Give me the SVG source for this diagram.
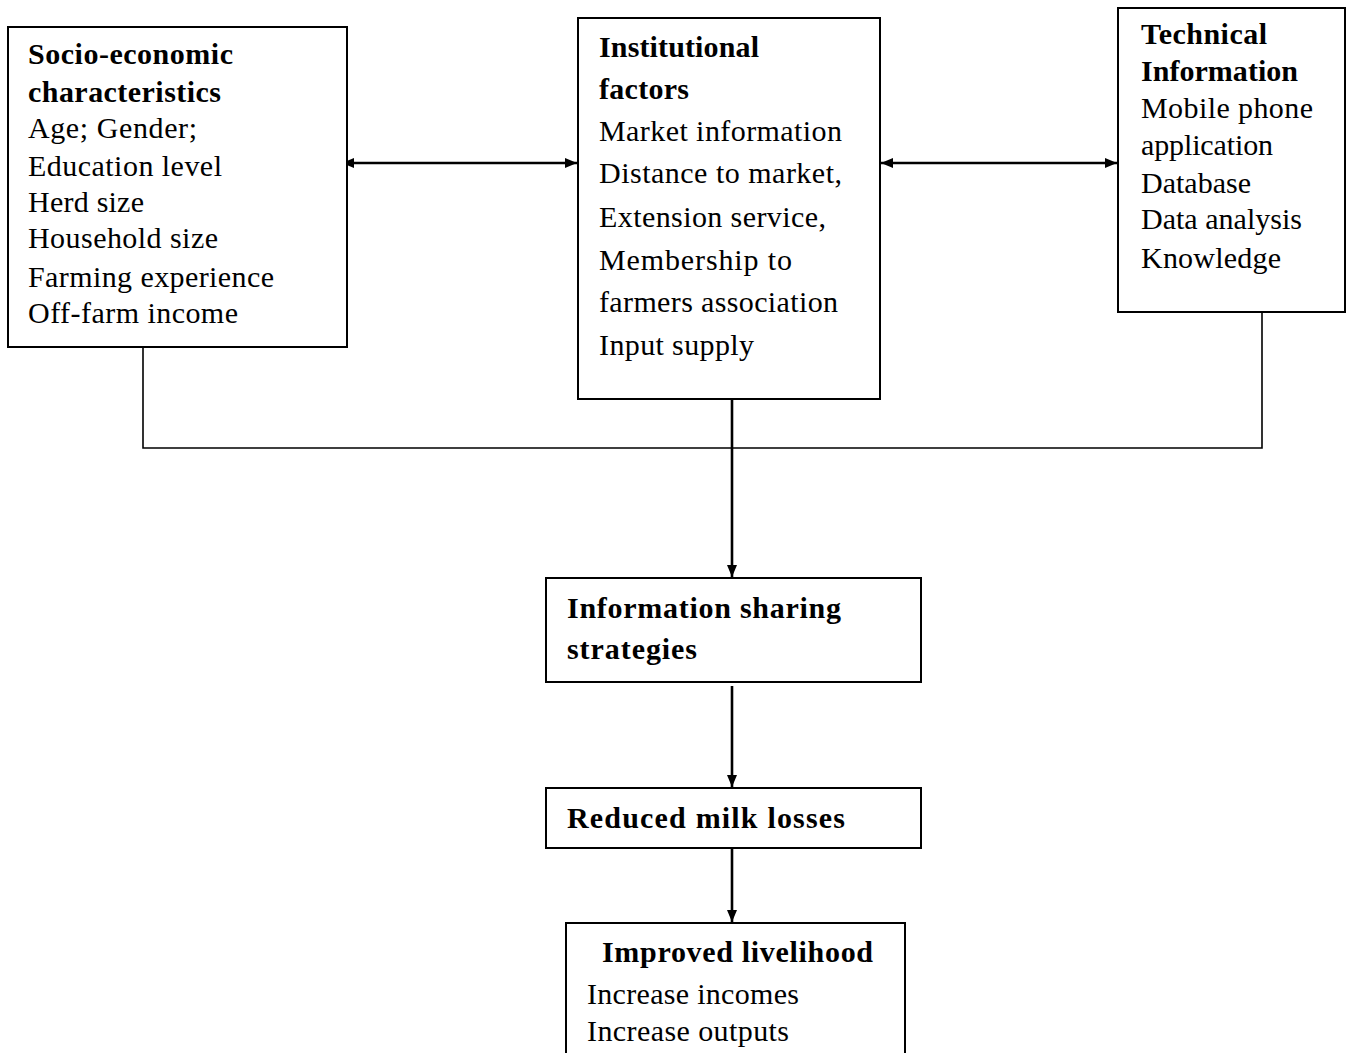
<svg xmlns="http://www.w3.org/2000/svg" width="1349" height="1053" viewBox="0 0 1349 1053">
<style>
.box{fill:#fff;stroke:#000;stroke-width:2}
text{font-family:"Liberation Serif","Times New Roman",serif;font-size:30px;fill:#000}
.b{font-weight:bold}
.c{fill:none;stroke:#000;stroke-width:2.6}
.bus{fill:none;stroke:#000;stroke-width:1.6}
</style>
<defs>
<marker id="ah" viewBox="0 0 12 10" refX="12" refY="5" markerWidth="12" markerHeight="10" markerUnits="userSpaceOnUse" orient="auto-start-reverse">
<path d="M0,0 L12,5 L0,10 z" fill="#000"/>
</marker>
</defs>
<rect width="1349" height="1053" fill="#fff"/>
<g id="connectors">
<path class="bus" d="M143,347 V448 H1262 V312"/>
<line class="c" x1="342" y1="163" x2="577" y2="163" marker-start="url(#ah)" marker-end="url(#ah)"/>
<line class="c" x1="881" y1="163" x2="1117" y2="163" marker-start="url(#ah)" marker-end="url(#ah)"/>
<line class="c" x1="732" y1="399" x2="732" y2="577" marker-end="url(#ah)"/>
<line class="c" x1="732" y1="686" x2="732" y2="787" marker-end="url(#ah)"/>
<line class="c" x1="732" y1="848" x2="732" y2="922" marker-end="url(#ah)"/>
</g>
<g id="socio">
<rect class="box" x="8" y="27" width="339" height="320"/>
<text x="28" y="64" class="b" textLength="205">Socio-economic</text>
<text x="28" y="102" class="b" textLength="193">characteristics</text>
<text x="28" y="138" textLength="169">Age; Gender;</text>
<text x="28" y="176" textLength="194">Education level</text>
<text x="28" y="212" textLength="116">Herd size</text>
<text x="28" y="248" textLength="190">Household size</text>
<text x="28" y="287" textLength="246">Farming experience</text>
<text x="28" y="323" textLength="210">Off-farm income</text>
</g>
<g id="institutional">
<rect class="box" x="578" y="18" width="302" height="381"/>
<text x="599" y="57" class="b" textLength="160">Institutional</text>
<text x="599" y="99" class="b" textLength="90">factors</text>
<text x="599" y="141" textLength="243">Market information</text>
<text x="599" y="183" textLength="243">Distance to market,</text>
<text x="599" y="227" textLength="227">Extension service,</text>
<text x="599" y="270" textLength="193">Membership to</text>
<text x="599" y="312" textLength="239">farmers association</text>
<text x="599" y="355" textLength="155">Input supply</text>
</g>
<g id="technical">
<rect class="box" x="1118" y="8" width="227" height="304"/>
<text x="1141" y="44" class="b" textLength="126">Technical</text>
<text x="1141" y="81" class="b" textLength="157">Information</text>
<text x="1141" y="118" textLength="172">Mobile phone</text>
<text x="1141" y="155" textLength="132">application</text>
<text x="1141" y="193" textLength="110">Database</text>
<text x="1141" y="229" textLength="161">Data analysis</text>
<text x="1141" y="268" textLength="140">Knowledge</text>
</g>
<g id="sharing">
<rect class="box" x="546" y="578" width="375" height="104"/>
<text x="567" y="618" class="b" textLength="274">Information sharing</text>
<text x="567" y="659" class="b" textLength="130">strategies</text>
</g>
<g id="losses">
<rect class="box" x="546" y="788" width="375" height="60"/>
<text x="567" y="828" class="b" textLength="278">Reduced milk losses</text>
</g>
<g id="livelihood">
<rect class="box" x="566" y="923" width="339" height="140"/>
<text x="602" y="962" class="b" textLength="271">Improved livelihood</text>
<text x="587" y="1004" textLength="212">Increase incomes</text>
<text x="587" y="1041" textLength="202">Increase outputs</text>
</g>
</svg>
